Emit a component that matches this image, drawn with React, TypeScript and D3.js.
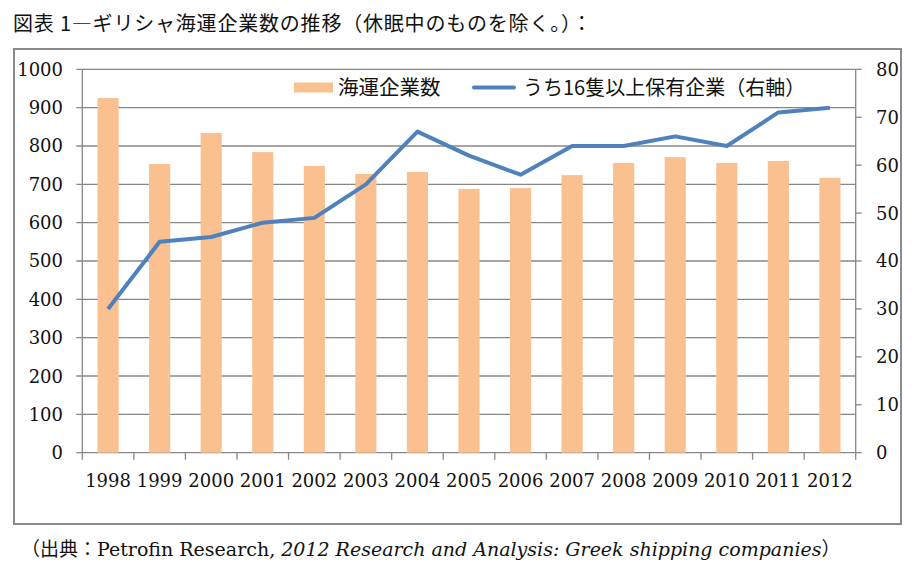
import { useEffect, useRef } from "react";
import * as d3 from "d3";

const years = ["1998", "1999", "2000", "2001", "2002", "2003", "2004", "2005", "2006", "2007", "2008", "2009", "2010", "2011", "2012"];
const companies = [925, 753, 834, 784, 748, 727, 732, 688, 690, 724, 756, 771, 756, 761, 717];
const bigOwners = [30, 44, 45, 48, 49, 56, 67, 62, 58, 64, 64, 66, 64, 71, 72];
const leftTicks = [0, 100, 200, 300, 400, 500, 600, 700, 800, 900, 1000];
const rightTicks = [0, 10, 20, 30, 40, 50, 60, 70, 80];

const barLabel = "海運企業数";
const lineLabel = "うち16隻以上保有企業（右軸）";
const title = "図表 1―ギリシャ海運企業数の推移（休眠中のものを除く。）：";

const serif = "'DejaVu Serif', 'Noto Sans CJK JP', serif";
const cjk = "'Noto Sans CJK JP', 'DejaVu Serif', sans-serif";

function GreekShippingChart() {
  const svgRef = useRef<SVGSVGElement | null>(null);

  useEffect(() => {
    const width = 915;
    const height = 570;
    const plot = { left: 82.3, right: 855.7, top: 69.3, bottom: 452.7 };
    const gridColor = "#878787";

    const svg = d3.select(svgRef.current).attr("width", width).attr("height", height);
    svg.selectAll("*").remove();

    svg.append("rect").attr("width", width).attr("height", height).attr("fill", "#fff");

    // title
    svg.append("text")
      .attr("x", 13)
      .attr("y", 31)
      .style("font-family", cjk)
      .style("font-size", "20px")
      .style("letter-spacing", "0.8px")
      .attr("fill", "#111")
      .text(title);

    // frame
    svg.append("rect")
      .attr("x", 14)
      .attr("y", 49)
      .attr("width", 887)
      .attr("height", 475)
      .attr("fill", "none")
      .attr("stroke", "#8a8a8a")
      .attr("stroke-width", 2);

    const x = d3.scaleBand().domain(years).range([plot.left, plot.right]).padding(0);
    const yL = d3.scaleLinear().domain([0, 1000]).range([plot.bottom, plot.top]);
    const yR = d3.scaleLinear().domain([0, 80]).range([plot.bottom, plot.top]);

    // gridlines
    svg.append("g")
      .selectAll("line")
      .data(leftTicks)
      .enter()
      .append("line")
      .attr("x1", plot.left - 6)
      .attr("x2", plot.right)
      .attr("y1", (d) => yL(d))
      .attr("y2", (d) => yL(d))
      .attr("stroke", gridColor)
      .attr("stroke-width", 1.3);

    // left axis
    svg.append("line")
      .attr("x1", plot.left).attr("x2", plot.left)
      .attr("y1", plot.top).attr("y2", plot.bottom)
      .attr("stroke", gridColor).attr("stroke-width", 1.3);

    svg.append("g")
      .selectAll("text")
      .data(leftTicks)
      .enter()
      .append("text")
      .attr("x", 63)
      .attr("y", (d) => yL(d))
      .attr("dy", "0.36em")
      .attr("text-anchor", "end")
      .style("font-family", serif)
      .style("font-size", "18px")
      .attr("fill", "#111")
      .text((d) => d);

    // right axis
    svg.append("line")
      .attr("x1", plot.right).attr("x2", plot.right)
      .attr("y1", plot.top).attr("y2", plot.bottom)
      .attr("stroke", gridColor).attr("stroke-width", 1.3);

    const rt = svg.append("g")
      .selectAll("g")
      .data(rightTicks)
      .enter()
      .append("g");
    rt.append("line")
      .attr("x1", plot.right).attr("x2", plot.right + 6)
      .attr("y1", (d) => yR(d)).attr("y2", (d) => yR(d))
      .attr("stroke", gridColor).attr("stroke-width", 1.3);
    rt.append("text")
      .attr("x", 876)
      .attr("y", (d) => yR(d))
      .attr("dy", "0.36em")
      .style("font-family", serif)
      .style("font-size", "18px")
      .attr("fill", "#111")
      .text((d) => d);

    // bottom axis ticks at band edges
    const edges = years.map((d) => x(d) as number).concat([plot.right]);
    svg.append("g")
      .selectAll("line")
      .data(edges)
      .enter()
      .append("line")
      .attr("x1", (d) => d).attr("x2", (d) => d)
      .attr("y1", plot.bottom).attr("y2", plot.bottom + 7)
      .attr("stroke", gridColor).attr("stroke-width", 1.3);

    svg.append("g")
      .selectAll("text")
      .data(years)
      .enter()
      .append("text")
      .attr("x", (d) => (x(d) as number) + x.bandwidth() / 2)
      .attr("y", 487)
      .attr("text-anchor", "middle")
      .style("font-family", serif)
      .style("font-size", "18px")
      .attr("fill", "#111")
      .text((d) => d);

    // bars
    const barW = x.bandwidth() * 0.41;
    svg.append("g")
      .selectAll("rect")
      .data(companies)
      .enter()
      .append("rect")
      .attr("x", (_, i) => (x(years[i]) as number) + (x.bandwidth() - barW) / 2)
      .attr("y", (d) => yL(d))
      .attr("width", barW)
      .attr("height", (d) => plot.bottom - yL(d))
      .attr("fill", "#FAC090");

    // line
    const line = d3.line<number>()
      .x((_, i) => (x(years[i]) as number) + x.bandwidth() / 2)
      .y((d) => yR(d));
    svg.append("path")
      .datum(bigOwners)
      .attr("d", line)
      .attr("fill", "none")
      .attr("stroke", "#4F81BD")
      .attr("stroke-width", 4)
      .attr("stroke-linejoin", "round");

    // legend
    const legend = svg.append("g");
    legend.append("rect")
      .attr("x", 294).attr("y", 82.5)
      .attr("width", 39).attr("height", 10)
      .attr("fill", "#FAC090");
    legend.append("text")
      .attr("x", 338).attr("y", 87.5)
      .attr("dy", "0.36em")
      .style("font-family", cjk)
      .style("font-size", "20.5px")
      .attr("fill", "#111")
      .text(barLabel);
    legend.append("line")
      .attr("x1", 474).attr("x2", 514)
      .attr("y1", 87.5).attr("y2", 87.5)
      .attr("stroke", "#4F81BD")
      .attr("stroke-width", 4)
      .attr("stroke-linecap", "round");
    legend.append("text")
      .attr("x", 523).attr("y", 87.5)
      .attr("dy", "0.36em")
      .style("font-family", cjk)
      .style("font-size", "20px")
      .attr("fill", "#111")
      .text(lineLabel);

    // source note
    const src = svg.append("text")
      .attr("x", 21)
      .attr("y", 556)
      .style("font-family", serif)
      .style("font-size", "19px")
      .attr("fill", "#111");
    src.append("tspan").style("font-family", cjk).text("（出典：");
    src.append("tspan").text("Petrofin Research, ");
    src.append("tspan").style("font-style", "italic").text("2012 Research and Analysis: Greek shipping companies");
    src.append("tspan").style("font-family", cjk).text("）");
  }, []);

  return <svg ref={svgRef} width={915} height={570} style={{ display: "block" }}></svg>;
}

export default function App() {
  return (
    <div style={{ position: "absolute", left: 0, top: 0 }}>
      <GreekShippingChart />
    </div>
  );
}
